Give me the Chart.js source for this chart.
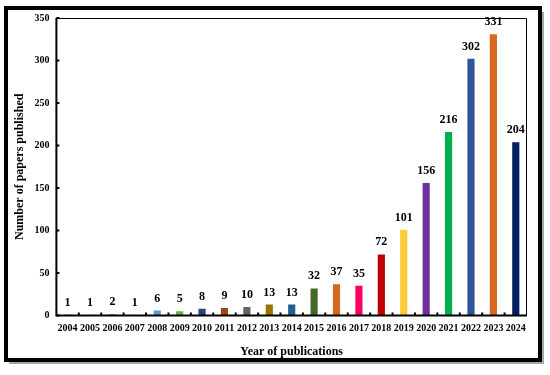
<!DOCTYPE html>
<html>
<head>
<meta charset="utf-8">
<script src="https://cdn.jsdelivr.net/npm/chart.js@4/dist/chart.umd.min.js"></script>
<style>
html,body{margin:0;padding:0;background:#fff;}
#wrap{width:550px;height:375px;position:relative;}
</style>
</head>
<body>
<div id="wrap"><canvas id="c" width="550" height="375"></canvas></div>
<script>
const years = ['2004','2005','2006','2007','2008','2009','2010','2011','2012','2013','2014','2015','2016','2017','2018','2019','2020','2021','2022','2023','2024'];
const papers = [1,1,2,1,6,5,8,9,10,13,13,32,37,35,72,101,156,216,302,331,204];
const barColors = ['#4472C4','#ED7D31','#A5A5A5','#FFC000','#5B9BD5','#70AD47','#264478','#9E480E','#636363','#997300','#255E91','#43682B','#D2691E','#FF0066','#C00000','#FFC93C','#7030A0','#00B050','#2F5597','#D9691F','#002060'];
const yTicks = [0,50,100,150,200,250,300,350];
const xTitle = 'Year of publications';
const yTitle = 'Number of papers published';

const serif = '"Liberation Serif", "Times New Roman", serif';

const framePlugin = {
  id: 'frame',
  beforeDraw(chart) {
    const ctx = chart.ctx;
    ctx.save();
    ctx.fillStyle = '#fff';
    ctx.fillRect(0, 0, chart.width, chart.height);
    // shadow
    ctx.fillStyle = 'rgba(0,0,0,0.35)';
    ctx.fillRect(9, 12, 535, 352);
    ctx.fillStyle = '#fff';
    ctx.fillRect(6, 8, 534, 352);
    ctx.strokeStyle = '#000';
    ctx.lineWidth = 4;
    ctx.strokeRect(6, 8, 534, 352);
    ctx.restore();
  },
  afterDatasetsDraw(chart) {
    const ctx = chart.ctx;
    const a = chart.chartArea;
    const xs = chart.scales.x, ys = chart.scales.y;
    ctx.save();
    // thin top/right box
    ctx.strokeStyle = '#000';
    ctx.lineWidth = 1;
    ctx.beginPath();
    ctx.moveTo(a.left, a.top + 0.5);
    ctx.lineTo(a.right - 0.5, a.top + 0.5);
    ctx.lineTo(a.right - 0.5, a.bottom);
    ctx.stroke();
    // main axes
    ctx.lineWidth = 2;
    ctx.beginPath();
    ctx.moveTo(a.left, a.top);
    ctx.lineTo(a.left, a.bottom);
    ctx.lineTo(a.right, a.bottom);
    ctx.stroke();
    // inside tick marks on x axis (category boundaries)
    ctx.lineWidth = 2;
    ctx.beginPath();
    for (let i = 0; i < years.length - 1; i++) {
      const x = (xs.getPixelForValue(i) + xs.getPixelForValue(i + 1)) / 2;
      ctx.moveTo(x, a.bottom);
      ctx.lineTo(x, a.bottom - 3);
    }
    // inside tick marks on y axis
    yTicks.forEach(v => {
      const y = ys.getPixelForValue(v);
      ctx.moveTo(a.left, y);
      ctx.lineTo(a.left + 3, y);
    });
    ctx.stroke();
    // data labels
    ctx.fillStyle = '#000';
    ctx.font = 'bold 12px ' + serif;
    ctx.textAlign = 'center';
    ctx.textBaseline = 'bottom';
    const meta = chart.getDatasetMeta(0);
    meta.data.forEach((bar, i) => {
      ctx.fillText(String(papers[i]), bar.x, bar.y - 6);
    });
    ctx.restore();
  }
};

new Chart(document.getElementById('c'), {
  type: 'bar',
  data: {
    labels: years,
    datasets: [{
      data: papers,
      backgroundColor: barColors,
      borderWidth: 0,
      barPercentage: 0.32,
      categoryPercentage: 1.0
    }]
  },
  options: {
    responsive: false,
    animation: false,
    devicePixelRatio: 1,
    layout: { padding: { left: 13, right: 23, top: 18, bottom: 16 } },
    plugins: {
      legend: { display: false },
      tooltip: { enabled: false }
    },
    scales: {
      x: {
        grid: { display: false, drawTicks: false },
        border: { display: false },
        ticks: {
          color: '#000',
          font: { family: serif, weight: 'bold', size: 10 },
          padding: 7,
          autoSkip: false,
          maxRotation: 0,
          minRotation: 0
        },
        title: {
          display: true,
          text: xTitle,
          color: '#000',
          font: { family: serif, weight: 'bold', size: 12 },
          padding: { top: 3, bottom: 0 }
        }
      },
      y: {
        min: 0,
        max: 350,
        afterBuildTicks(scale) { scale.ticks = yTicks.map(v => ({ value: v })); },
        grid: { display: false, drawTicks: false },
        border: { display: false },
        ticks: {
          color: '#000',
          font: { family: serif, weight: 'bold', size: 10 },
          padding: 7
        },
        title: {
          display: true,
          text: yTitle,
          color: '#000',
          font: { family: serif, weight: 'bold', size: 12 },
          padding: { top: 0, bottom: 0 }
        }
      }
    }
  },
  plugins: [framePlugin]
});
</script>
</body>
</html>
